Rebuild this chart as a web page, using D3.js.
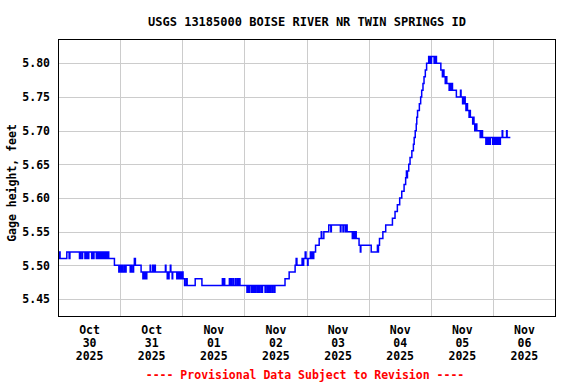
<!DOCTYPE html>
<html>
<head>
<meta charset="utf-8">
<script src="https://cdn.jsdelivr.net/npm/d3@7"></script>
<style>
  body { margin: 0; background: #fff; }
  text { font-family: "DejaVu Sans Mono", monospace; font-weight: bold; }
</style>
</head>
<body>
<div id="chart"></div>
<script>
const width = 576, height = 384;
const margin = { top: 39, right: 21, bottom: 68, left: 58 };

const title = "USGS 13185000 BOISE RIVER NR TWIN SPRINGS ID";
const yLabel = "Gage height, feet";
const footer = "---- Provisional Data Subject to Revision ----";

// gage height changes, [hour of day, feet], value holds until next entry
const oct30 = [[0, 5.51], [0.5, 5.52], [0.8, 5.51], [3.4, 5.52], [4.3, 5.51], [4.6, 5.52], [8.3, 5.51], [8.6, 5.52],
  [9.2, 5.51], [9.5, 5.52], [10.4, 5.51], [10.7, 5.52], [11.0, 5.51], [11.3, 5.52], [11.6, 5.51], [11.9, 5.52],
  [13.0, 5.51], [13.3, 5.52], [13.6, 5.51], [13.9, 5.52], [14.8, 5.51], [15.1, 5.52], [15.6, 5.51], [15.9, 5.52],
  [16.3, 5.51], [16.6, 5.52], [16.9, 5.51], [17.2, 5.52], [17.5, 5.51], [17.8, 5.52], [18.0, 5.51], [18.3, 5.52],
  [18.6, 5.51], [18.8, 5.52], [19.1, 5.51], [19.4, 5.52], [19.6, 5.51], [21.8, 5.50], [23.5, 5.49]];
const oct31 = [[0.0, 5.50], [0.3, 5.49], [0.8, 5.50], [1.0, 5.49], [1.6, 5.50], [1.8, 5.49], [2.3, 5.50], [3.9, 5.49],
  [4.3, 5.50], [4.6, 5.49], [5.2, 5.50], [5.5, 5.51], [5.9, 5.50], [8.1, 5.49], [8.8, 5.48], [9.1, 5.49], [9.3, 5.48],
  [9.6, 5.49], [9.8, 5.48], [10.3, 5.49], [11.6, 5.50], [11.8, 5.49], [12.6, 5.50], [12.9, 5.49], [13.4, 5.50],
  [13.6, 5.49], [17.5, 5.50], [17.7, 5.49], [18.2, 5.48], [18.4, 5.49], [18.7, 5.48], [18.9, 5.49], [19.4, 5.50],
  [19.6, 5.49], [20.1, 5.48], [20.3, 5.49], [21.9, 5.48], [22.2, 5.49], [22.4, 5.48], [22.8, 5.49], [23.0, 5.48],
  [23.5, 5.49], [23.7, 5.48]];
const nov01 = [[0.0, 5.49], [0.3, 5.48], [0.9, 5.47], [1.5, 5.48], [1.9, 5.47], [5.0, 5.48], [7.6, 5.47], [15.5, 5.48],
  [15.7, 5.47], [16.2, 5.48], [16.4, 5.47], [18.2, 5.48], [18.4, 5.47], [18.9, 5.48], [19.1, 5.47], [19.7, 5.48],
  [19.9, 5.47], [20.6, 5.48], [20.8, 5.47], [21.4, 5.48], [21.6, 5.47], [22.1, 5.48], [22.3, 5.47]];
const nov02 = [[1.0, 5.46], [1.3, 5.47], [1.6, 5.46], [1.9, 5.47], [2.6, 5.46], [2.9, 5.47], [3.3, 5.46], [3.6, 5.47],
  [4.1, 5.46], [4.4, 5.47], [5.0, 5.46], [5.3, 5.47], [5.8, 5.46], [6.1, 5.47], [6.7, 5.46], [7.0, 5.47], [8.0, 5.46],
  [8.3, 5.47], [8.9, 5.46], [9.2, 5.47], [9.7, 5.46], [10.0, 5.47], [10.6, 5.46], [10.9, 5.47], [11.5, 5.46],
  [11.8, 5.47], [15.7, 5.48], [17.3, 5.49], [19.6, 5.50], [20.0, 5.51], [20.3, 5.50], [22.3, 5.51], [22.6, 5.50],
  [22.9, 5.51], [23.5, 5.52], [23.8, 5.51]];
const nov03 = [[0.4, 5.50], [0.6, 5.51], [1.5, 5.52], [1.8, 5.51], [2.1, 5.52], [2.6, 5.51], [2.8, 5.52], [3.5, 5.53],
  [4.9, 5.54], [5.7, 5.55], [5.9, 5.54], [6.7, 5.55], [8.6, 5.56], [9.4, 5.55], [9.6, 5.56], [13.1, 5.55], [13.3, 5.56],
  [14.1, 5.55], [14.3, 5.56], [15.0, 5.55], [15.2, 5.56], [15.7, 5.55], [17.7, 5.54], [18.2, 5.55], [18.5, 5.54],
  [19.0, 5.55], [19.2, 5.54], [20.3, 5.53], [20.8, 5.52], [21.0, 5.53]];
const nov04 = [[1.0, 5.52], [3.4, 5.53], [3.6, 5.52], [3.8, 5.53], [4.2, 5.54], [5.5, 5.55], [6.6, 5.56], [9.2, 5.57],
  [10.2, 5.58], [11.1, 5.59], [12.0, 5.60], [12.8, 5.61], [13.7, 5.62], [14.3, 5.63], [14.6, 5.64], [14.8, 5.63],
  [15.0, 5.64], [15.5, 5.65], [16.0, 5.66], [16.7, 5.67], [17.3, 5.68], [17.6, 5.69], [18.0, 5.70], [18.4, 5.71],
  [18.6, 5.72], [18.9, 5.73], [19.6, 5.74], [20.1, 5.75], [20.5, 5.76], [21.0, 5.77], [21.4, 5.78], [21.9, 5.79],
  [22.4, 5.80], [23.2, 5.81], [23.5, 5.80], [23.7, 5.81]];
const nov05 = [[0.0, 5.80], [0.3, 5.81], [1.3, 5.80], [1.5, 5.81], [1.7, 5.80], [2.0, 5.81], [2.2, 5.80], [3.9, 5.79],
  [4.5, 5.78], [4.7, 5.79], [5.1, 5.78], [5.6, 5.77], [5.8, 5.78], [6.2, 5.77], [7.1, 5.76], [7.3, 5.77], [7.7, 5.76],
  [8.0, 5.77], [8.4, 5.76], [9.9, 5.75], [11.5, 5.76], [11.7, 5.75], [12.3, 5.74], [12.5, 5.75], [12.8, 5.74],
  [13.0, 5.75], [13.3, 5.74], [13.6, 5.73], [13.8, 5.74], [14.2, 5.73], [14.8, 5.72], [15.0, 5.73], [15.3, 5.72],
  [16.2, 5.71], [16.4, 5.72], [16.7, 5.71], [17.0, 5.70], [17.4, 5.71], [17.8, 5.70], [19.1, 5.69], [19.3, 5.70],
  [19.6, 5.69], [19.8, 5.70], [20.0, 5.69], [21.3, 5.68], [21.5, 5.69], [22.0, 5.68], [22.2, 5.69], [22.7, 5.68],
  [23.0, 5.69], [23.9, 5.68]];
const nov06 = [[0.2, 5.69], [0.5, 5.68], [0.9, 5.69], [1.2, 5.68], [1.6, 5.69], [2.0, 5.68], [2.3, 5.69], [2.6, 5.68],
  [2.9, 5.69], [3.6, 5.70], [3.8, 5.69], [5.3, 5.70], [5.5, 5.69], [6.75, 5.69]];

const days = [oct30, oct31, nov01, nov02, nov03, nov04, nov05, nov06];
const dayLabels = [["Oct", "30", "2025"], ["Oct", "31", "2025"], ["Nov", "01", "2025"], ["Nov", "02", "2025"],
  ["Nov", "03", "2025"], ["Nov", "04", "2025"], ["Nov", "05", "2025"], ["Nov", "06", "2025"]];
const yTicks = [5.45, 5.50, 5.55, 5.60, 5.65, 5.70, 5.75, 5.80];

const start = new Date(Date.UTC(2025, 9, 30));
const dayStarts = days.map((d, i) => d3.utcDay.offset(start, i));

const data = [];
days.forEach((rows, i) => {
  rows.forEach(([h, v]) => {
    data.push({ t: new Date(+dayStarts[i] + h * 3600e3), v: v });
  });
});

const svg = d3.select("#chart").append("svg")
  .attr("width", width)
  .attr("height", height);

const x = d3.scaleUtc()
  .domain([start, d3.utcDay.offset(start, 8)])
  .range([margin.left, width - margin.right]);

const y = d3.scaleLinear()
  .domain([5.4248, 5.8361])
  .range([height - margin.bottom, margin.top]);

// grid
svg.append("g")
  .attr("transform", `translate(0,${height - margin.bottom})`)
  .call(d3.axisBottom(x).tickValues(dayStarts.slice(1)).tickSize(-(height - margin.top - margin.bottom)).tickFormat(""))
  .call(g => g.select(".domain").remove())
  .call(g => g.selectAll("line").attr("stroke", "#cccccc").attr("shape-rendering", "crispEdges"));

svg.append("g")
  .attr("transform", `translate(${margin.left},0)`)
  .call(d3.axisLeft(y).tickValues(yTicks).tickSize(-(width - margin.left - margin.right)).tickFormat(""))
  .call(g => g.select(".domain").remove())
  .call(g => g.selectAll("line").attr("stroke", "#cccccc").attr("shape-rendering", "crispEdges"));

// y tick labels
svg.append("g")
  .attr("transform", `translate(${margin.left},0)`)
  .call(d3.axisLeft(y).tickValues(yTicks).tickSize(0).tickPadding(8).tickFormat(d3.format(".2f")))
  .call(g => g.select(".domain").remove())
  .selectAll("text")
  .attr("fill", "black")
  .style("font-size", "11.5px");

// x tick labels at noon, three lines
const xLab = svg.append("g")
  .attr("transform", `translate(0,${height - margin.bottom})`)
  .call(d3.axisBottom(x).tickValues(dayStarts.map(d => d3.utcHour.offset(d, 12))).tickSize(0).tickFormat(""))
  .call(g => g.select(".domain").remove());

xLab.selectAll(".tick text")
  .attr("fill", "black")
  .attr("y", 0)
  .attr("dy", 0)
  .style("font-size", "11.5px")
  .each(function (d, i) {
    d3.select(this).selectAll("tspan")
      .data(dayLabels[i])
      .join("tspan")
      .attr("x", 0)
      .attr("y", (s, j) => 18 + j * 13)
      .text(s => s);
  });

// data line
const line = d3.line()
  .x(d => x(d.t))
  .y(d => y(d.v))
  .curve(d3.curveStepAfter);

svg.append("path")
  .datum(data)
  .attr("fill", "none")
  .attr("stroke", "#0000ff")
  .attr("stroke-width", 1.5)
  .attr("d", line);

// frame
svg.append("rect")
  .attr("x", margin.left)
  .attr("y", margin.top)
  .attr("width", width - margin.left - margin.right)
  .attr("height", height - margin.top - margin.bottom)
  .attr("fill", "none")
  .attr("stroke", "black")
  .attr("shape-rendering", "crispEdges");

svg.append("text")
  .attr("x", 307)
  .attr("y", 26)
  .attr("text-anchor", "middle")
  .style("font-size", "12px")
  .text(title);

svg.append("text")
  .attr("transform", "translate(16,183) rotate(-90)")
  .attr("text-anchor", "middle")
  .style("font-size", "11.5px")
  .text(yLabel);

svg.append("text")
  .attr("x", 305)
  .attr("y", 379)
  .attr("text-anchor", "middle")
  .attr("fill", "#ff0000")
  .style("font-size", "11.5px")
  .text(footer);
</script>
</body>
</html>
